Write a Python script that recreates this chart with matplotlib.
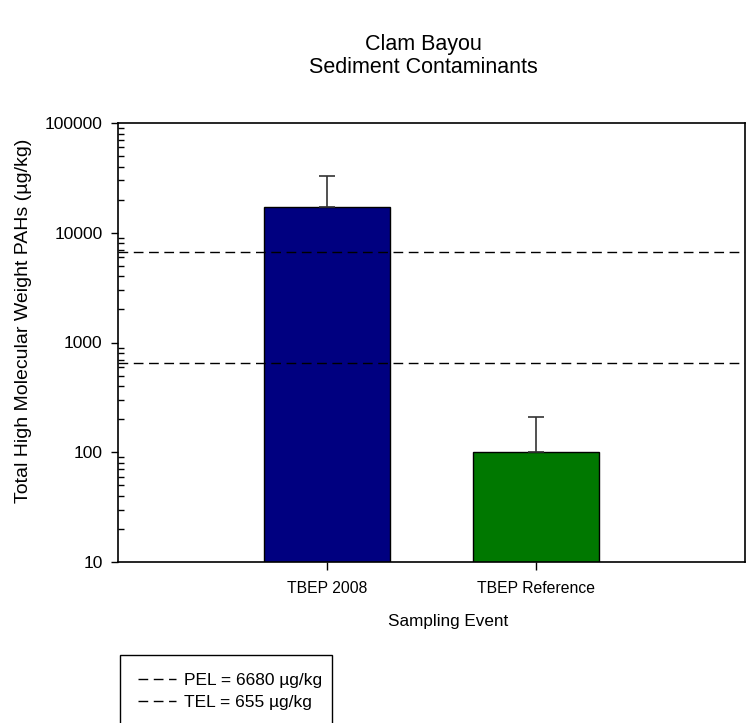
import matplotlib
matplotlib.use('Agg')
import matplotlib.pyplot as plt
from matplotlib.patches import Rectangle
from matplotlib.ticker import LogLocator, FixedFormatter, NullFormatter

plt.rcParams['font.family'] = ['Liberation Sans', 'DejaVu Sans']

events = ['TBEP 2008', 'TBEP Reference']
means = [17300, 101]
upper_err = [15600, 110]
bar_colors = ['#000080', '#007800']
pel = 6680
tel = 655
ref_labels = ['PEL = 6680 \u00b5g/kg', 'TEL = 655 \u00b5g/kg']

fig = plt.figure(figsize=(7.47, 7.23), dpi=100)
ax = fig.add_axes([118/747, 1-562/723, 627/747, 439/723])

pos = list(range(len(events)))
ax.bar(pos, means, width=0.6, color=bar_colors, edgecolor='black', linewidth=1, zorder=2)
ax.errorbar(pos, means, yerr=[[0, 0], upper_err], fmt='none', ecolor='#333333',
            elinewidth=1.2, capsize=6, capthick=1.2, zorder=3)

# reference levels drawn over the bars
l1, = ax.plot([-1, 2], [pel, pel], color='black', lw=1, dashes=(7, 4), zorder=4)
l2, = ax.plot([-1, 2], [tel, tel], color='black', lw=1, dashes=(7, 4), zorder=4)

ax.set_yscale('log')
ax.set_ylim(10, 100000)
ax.set_xlim(-1, 2)
ax.set_yticks([10, 100, 1000, 10000, 100000])
ax.yaxis.set_major_formatter(FixedFormatter(['10', '100', '1000', '10000', '100000']))
ax.yaxis.set_minor_locator(LogLocator(base=10, subs=range(2, 10)))
ax.yaxis.set_minor_formatter(NullFormatter())
ax.tick_params(axis='y', which='major', direction='out', length=5, width=1, pad=6, labelsize=12.5)
ax.tick_params(axis='y', which='minor', direction='in', length=4, width=1)
ax.set_xticks(pos)
ax.set_xticklabels(events)
ax.tick_params(axis='x', direction='out', length=6, width=1, pad=8, labelsize=11.3)
for s in ax.spines.values():
    s.set_linewidth(1.2)

ax.set_xlabel('Sampling Event', fontsize=12.3)
ax.xaxis.set_label_coords(0.526, -0.118)
ax.set_ylabel('Total High Molecular Weight PAHs (\u00b5g/kg)', fontsize=14)
ax.yaxis.set_label_coords(-0.137, 0.55)

fig.text(423/747, 1-56/723, 'Clam Bayou\nSediment Contaminants', ha='center', va='center',
         fontsize=15.5, linespacing=1.1)

fig.patches.append(Rectangle((120/747, -0.02), 212/747, 1-655/723+0.02,
                             transform=fig.transFigure, fill=False, edgecolor='black', lw=1))
fig.legend([l1, l2], ref_labels, loc='upper left', bbox_to_anchor=(122/747, 1-657/723),
           frameon=False, fontsize=12.5, handlelength=2.2, handletextpad=0.5, labelspacing=0.4)

fig.savefig('out.png', dpi=100)
